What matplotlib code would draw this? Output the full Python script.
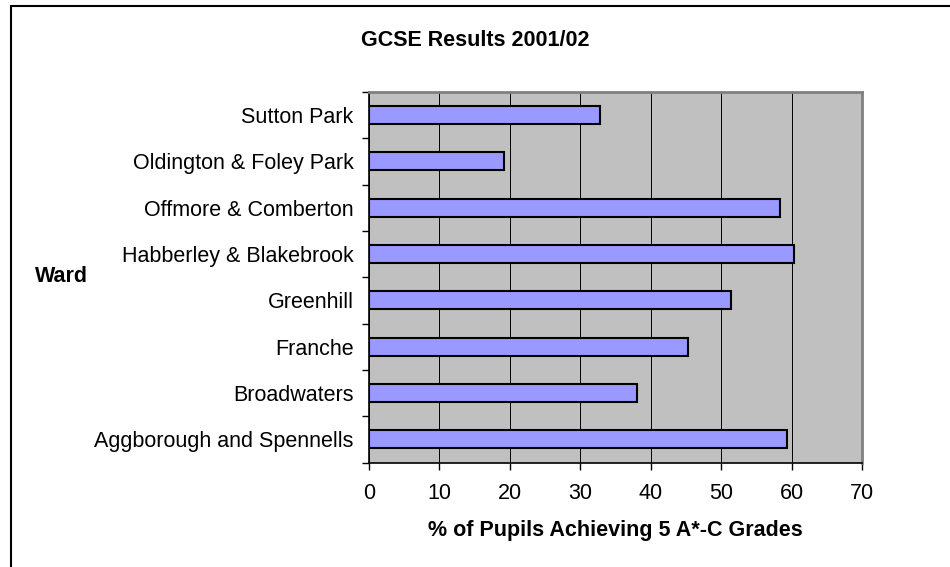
import numpy as np
import matplotlib
matplotlib.use("Agg")
from matplotlib import pyplot as plt
from matplotlib.patches import Rectangle

plt.rcParams["font.family"] = ["Liberation Sans", "DejaVu Sans"]

wards = ["Aggborough and Spennells", "Broadwaters", "Franche", "Greenhill",
         "Habberley & Blakebrook", "Offmore & Comberton",
         "Oldington & Foley Park", "Sutton Park"]
pct = [59.4, 38.0, 45.3, 51.4, 60.3, 58.3, 19.2, 32.8]
xticks = [0, 10, 20, 30, 40, 50, 60, 70]

fs = 15.5
fig = plt.figure(figsize=(9.5, 5.67), dpi=100)
ax = fig.add_axes([369/950, 1-462.5/567, 493/950, (462.5-92)/567])
ax.set_facecolor("#C0C0C0")

pos = np.arange(len(wards))
ax.barh(pos, pct, height=0.39, color="#9999FF", edgecolor="black",
        linewidth=1.5, zorder=3)

ax.set_xlim(0, 70)
ax.set_ylim(-0.5, len(wards)-0.5)
ax.set_xticks(xticks)
ax.set_xticklabels([str(t) for t in xticks], fontsize=fs)
ax.tick_params(axis="x", direction="out", length=5, width=1, pad=10)

# ticks between categories, labels at the centres
ax.set_yticks(np.arange(len(wards)+1)-0.5)
ax.set_yticklabels([])
ax.set_yticks(pos, minor=True)
ax.set_yticklabels(wards, minor=True, fontsize=fs)
ax.tick_params(axis="y", which="major", direction="out", length=5, width=1)
ax.tick_params(axis="y", which="minor", length=0, pad=11)

ax.grid(axis="x", color="black", linewidth=0.7, zorder=1)
ax.set_axisbelow(True)

ax.spines[["left", "bottom"]].set_color("black")
ax.spines[["left", "bottom"]].set_linewidth(1.2)
ax.spines[["top", "right"]].set_color("#808080")
ax.spines[["top", "right"]].set_linewidth(2)

fig.text(475/950, 1-40/567, "GCSE Results 2001/02", fontsize=fs,
         fontweight="bold", ha="center", va="center")
fig.text(615/950, 1-530.7/567, "% of Pupils Achieving 5 A*-C Grades",
         fontsize=fs, fontweight="bold", ha="center", va="center")
fig.text(35/950, 1-276.7/567, "Ward", fontsize=fs, fontweight="bold",
         ha="left", va="center")

# outer chart border (only top and left visible in the crop)
fig.add_artist(Rectangle((10.5/950, -0.1), 1.2, 1.1-5.7/567,
                         transform=fig.transFigure, fill=False,
                         edgecolor="black", linewidth=1.5))

fig.savefig("out.png", dpi=100)
